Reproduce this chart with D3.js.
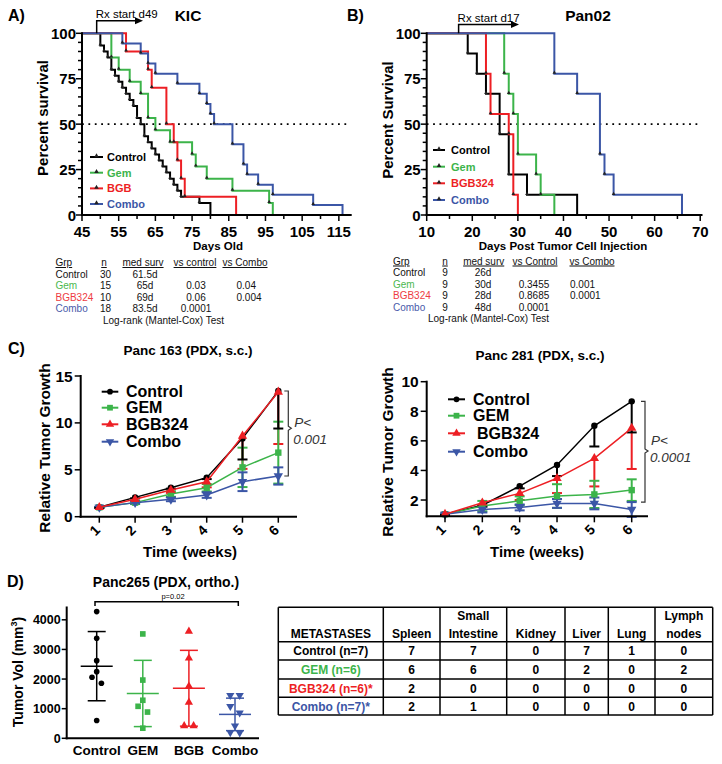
<!DOCTYPE html>
<html lang="en">
<head>
<meta charset="UTF-8">
<title>KIC / Pan02 survival, PDX growth and metastases</title>
<script src="https://d3js.org/d3.v7.min.js"></script>
<style>
  * { margin: 0; padding: 0; box-sizing: border-box; }
  body { background: #fff; }
  svg { display: block; font-family: Arial, "Liberation Sans", Helvetica, sans-serif; }
</style>
</head>
<body>
<svg id="fig" width="722" height="764"></svg>
<script>
// ---------- data ----------
// A) KIC survival: day of death for every mouse
const kicGroups = ["Control", "Gem", "BGB", "Combo"];
const kicControl = [50,50,51,52,53,53,54,55,56,57,58,59,60,60,61,62,62,63,64,65,66,67,68,69,70,71,72,77,80,80];
const kicGem = [53,53,55,58,61,63,63,65,69,75,76,79,86,96,97];
const kicBgb = [57,63,64,68,68,70,71,72,73,87];
const kicCombo = [56,61,63,65,71,77,79,80,81,86,86,89,89,90,93,97,108,116];

// B) Pan02 survival
const panGroups = ["Control", "Gem", "BGB324", "Combo"];
const panControl = [19,21,23,26,26,28,28,32,43];
const panGem = [27,27,28,29,30,30,34,35,38];
const panBgb = [23,23,24,24,28,29,29,29,30];
const panCombo = [38,38,43,48,48,48,49,51,66];

// stats tables under A and B
const statGrp = ["Control", "Gem", "BGB324", "Combo"];
const kicHeaders = ["Grp", "n", "med surv", "vs control", "vs Combo"];
const kicN = [30, 15, 10, 18];
const kicMedian = ["61.5d", "65d", "69d", "83.5d"];
const kicVsControl = ["", "0.03", "0.06", "0.0001"];
const kicVsCombo = ["", "0.04", "0.004", ""];
const panHeaders = ["Grp", "n", "med surv", "vs Control", "vs Combo"];
const panN = [9, 9, 9, 9];
const panMedian = ["26d", "30d", "28d", "48d"];
const panVsControl = ["", "0.3455", "0.8685", "0.0001"];
const panVsCombo = ["", "0.001", "0.0001", ""];

// C) relative tumour growth
const weeks = [1, 2, 3, 4, 5, 6];
const growthGroups = ["Control", "GEM", "BGB324", "Combo"];
const p163Control = [1.0, 2.06, 3.09, 4.16, 8.35, 13.4];
const p163ControlErr = [0.05, 0.1, 0.1, 0.15, 2.25, 4.0];
const p163Gem = [1.0, 1.5, 2.42, 3.09, 5.26, 6.83];
const p163GemErr = [0.05, 0.15, 0.3, 0.4, 2.1, 3.3];
const p163Bgb = [1.0, 1.85, 2.84, 3.73, 8.6, 13.3];
const p163BgbErr = [0.05, 0.15, 0.3, 0.6, 3.5, 5.55];
const p163Combo = [1.0, 1.5, 1.85, 2.31, 3.73, 4.34];
const p163ComboErr = [0.05, 0.1, 0.2, 0.3, 1.0, 0.92];

const p281Control = [1.04, 1.65, 2.94, 4.37, 7.02, 8.67];
const p281ControlErr = [0.05, 0.1, 0.15, 0.75, 1.4, 2.1];
const p281Gem = [1.04, 1.59, 1.95, 2.27, 2.38, 2.67];
const p281GemErr = [0.05, 0.35, 0.3, 0.8, 0.92, 0.73];
const p281Bgb = [1.04, 1.81, 2.45, 3.47, 4.82, 6.86];
const p281BgbErr = [0.05, 0.15, 0.45, 1.0, 1.9, 2.76];
const p281Combo = [1.04, 1.36, 1.5, 1.77, 1.77, 1.36];
const p281ComboErr = [0.05, 0.2, 0.2, 0.3, 0.4, 0.5];

// D) Panc265 tumour volume (mm3)
const volGroups = ["Control", "GEM", "BGB", "Combo"];
const volControl = [4277, 3378, 2622, 2250, 2061, 1858, 600];
const volGem = [3523, 1966, 1284, 1080, 886, 341];
const volBgb = [3614, 2705, 1761, 1216, 420, 420];
const volCombo = [1450, 1450, 1080, 860, 420, 200, 190];

// D) metastases table
const metCols = ["Spleen", "Small|Intestine", "Kidney", "Liver", "Lung", "Lymph|nodes"];
const metRows = ["Control (n=7)", "GEM (n=6)", "BGB324 (n=6)*", "Combo (n=7)*"];
const metCounts = [
  [7, 7, 0, 7, 1, 0],
  [6, 6, 0, 2, 0, 2],
  [2, 0, 0, 0, 0, 0],
  [2, 1, 0, 0, 0, 0]
];

// ---------- drawing ----------
const svg = d3.select("#fig");
const black = "#000", green = "#3cb44a", red = "#ed1f24", blue = "#3b56a6";
const groupColors = [black, green, red, blue];
const tableColors = ["#111", "#4cb84f", "#ee3b43", "#4a5aaa"];

const txt = (g, x, y, s, o = {}) => g.append("text")
  .attr("x", x).attr("y", y)
  .attr("font-size", o.size || 12)
  .attr("font-weight", o.weight || "normal")
  .attr("font-style", o.style || null)
  .attr("text-anchor", o.anchor || "start")
  .attr("fill", o.fill || "#000")
  .text(s);

const vtxt = (g, x, y, s, size) => g.append("text")
  .attr("transform", `translate(${x},${y}) rotate(-90)`)
  .attr("font-size", size).attr("font-weight", "bold")
  .attr("text-anchor", "middle").text(s);

// panel letters
txt(svg, 8, 21, "A)", { size: 16, weight: "bold" });
txt(svg, 347, 21, "B)", { size: 16, weight: "bold" });
txt(svg, 8, 354, "C)", { size: 16, weight: "bold" });
txt(svg, 7, 587, "D)", { size: 16, weight: "bold" });

function kmPoints(deaths, start) {
  const n = deaths.length;
  const times = Array.from(new Set(deaths)).sort((a, b) => a - b);
  let alive = n;
  const pts = [[start, 100]];
  times.forEach(t => {
    alive -= deaths.filter(d => d === t).length;
    pts.push([t, alive / n * 100]);
  });
  return pts;
}

function kmPanel(o) {
  const g = svg.append("g");
  const { x, y } = o;
  const [x0, x1] = x.range();
  const yb = y(0), yt = y(100);

  // dotted median line
  g.append("line").attr("x1", x0).attr("x2", x1 - 2).attr("y1", y(50)).attr("y2", y(50))
    .attr("stroke", "#000").attr("stroke-width", 1.6).attr("stroke-dasharray", "1.8,4.6");

  const line = d3.line().x(d => x(d[0])).y(d => y(d[1])).curve(d3.curveStepAfter);
  o.series.forEach((deaths, i) => {
    const pts = kmPoints(deaths, x.domain()[0]);
    g.append("path").attr("d", line(pts)).attr("fill", "none")
      .attr("stroke", groupColors[i]).attr("stroke-width", 2);
    g.selectAll(null).data(pts.slice(1, -1)).join("path")
      .attr("transform", d => `translate(${x(d[0])},${y(d[1]) - 1})`)
      .attr("d", d3.symbol(d3.symbolTriangle, 6)()).attr("fill", "#222");
  });

  // axes
  g.append("line").attr("x1", x0).attr("x2", x0).attr("y1", yt - 1).attr("y2", yb + 1)
    .attr("stroke", "#000").attr("stroke-width", 2);
  g.append("line").attr("x1", x0 - 1).attr("x2", x1).attr("y1", yb).attr("y2", yb)
    .attr("stroke", "#000").attr("stroke-width", 2);
  d3.range(0, 101, 5).forEach(v => {
    const major = v % 25 === 0;
    g.append("line").attr("x1", x0).attr("x2", x0 - (major ? 6 : 4)).attr("y1", y(v)).attr("y2", y(v))
      .attr("stroke", "#000").attr("stroke-width", 1.5);
    if (major) txt(g, x0 - 6, y(v) + 5.5, v, { size: 15, weight: "bold", anchor: "end" });
  });
  d3.range(o.xStart, o.xEnd + 0.1, 5).forEach(v => {
    const major = (v - o.xStart) % 10 === 0;
    g.append("line").attr("x1", x(v)).attr("x2", x(v)).attr("y1", yb).attr("y2", yb + (major ? 6 : 4))
      .attr("stroke", "#000").attr("stroke-width", 1.5);
    if (major) txt(g, x(v), 237, v, { size: 15, weight: "bold", anchor: "middle" });
  });
  txt(g, o.xLabelX, 250, o.xLabel, { size: 11.5, weight: "bold", anchor: "middle" });
  vtxt(g, o.yLabelX, o.yLabelY, o.yLabel, 15);
  txt(g, o.titleX, 21, o.title, { size: 15.5, weight: "bold", anchor: "middle" });

  // Rx arrow
  const ax = x(o.rxDay);
  g.append("path").attr("d", `M${ax},${yt}V${o.arrowY}H${o.arrowEnd - 6}`)
    .attr("fill", "none").attr("stroke", "#000").attr("stroke-width", 1.5);
  g.append("path").attr("d", `M${o.arrowEnd},${o.arrowY}l-8,-3.5v7z`).attr("fill", "#000");
  txt(g, ax - 1, o.arrowY - 3, o.rxText, { size: 11.5 });

  // legend
  o.groups.forEach((name, i) => {
    const ly = o.legend.ys[i];
    g.append("line").attr("x1", o.legend.x1).attr("x2", o.legend.x2).attr("y1", ly).attr("y2", ly)
      .attr("stroke", groupColors[i]).attr("stroke-width", 2);
    g.append("path").attr("transform", `translate(${(o.legend.x1 + o.legend.x2) / 2},${ly - 1})`)
      .attr("d", d3.symbol(d3.symbolTriangle, 9)()).attr("fill", "#222");
    txt(g, o.legend.tx, ly + 4, name, { size: 11, weight: "bold", fill: groupColors[i] });
  });
}

kmPanel({
  x: d3.scaleLinear([45, 118.5], [82, 351.7]),
  y: d3.scaleLinear([0, 100], [215, 33.3]),
  xStart: 45, xEnd: 115,
  series: [kicControl, kicGem, kicBgb, kicCombo],
  groups: kicGroups,
  title: "KIC", titleX: 188,
  xLabel: "Days Old", xLabelX: 218,
  yLabel: "Percent survival", yLabelX: 48, yLabelY: 118,
  rxDay: 49, rxText: "Rx start d49", arrowY: 20.7, arrowEnd: 143,
  legend: { x1: 90, x2: 103, tx: 107, ys: [157, 172.7, 188.4, 204] }
});

kmPanel({
  x: d3.scaleLinear([10, 70.5], [426.7, 702.5]),
  y: d3.scaleLinear([0, 100], [215, 33.3]),
  xStart: 10, xEnd: 70,
  series: [panControl, panGem, panBgb, panCombo],
  groups: panGroups,
  title: "Pan02", titleX: 588,
  xLabel: "Days Post Tumor Cell Injection", xLabelX: 563,
  yLabel: "Percent Survival", yLabelX: 393, yLabelY: 120,
  rxDay: 17, rxText: "Rx start d17", arrowY: 24.5, arrowEnd: 519,
  legend: { x1: 433, x2: 445, tx: 451, ys: [150, 166.7, 183.3, 200] }
});

// stats tables
function statTable(o) {
  const g = svg.append("g").attr("font-size", 10);
  const cols = o.cols;
  o.headers.forEach((h, j) => {
    g.append("text").attr("x", cols[j].h).attr("y", o.y0)
      .attr("text-anchor", cols[j].ha).attr("text-decoration", "underline")
      .attr("font-size", 10).attr("fill", "#111").text(h);
  });
  statGrp.forEach((grp, i) => {
    const yy = o.y0 + (i + 1) * o.dy;
    const vals = [grp, o.n[i], o.med[i], o.vsC[i], o.vsCombo[i]];
    vals.forEach((v, j) => {
      g.append("text").attr("x", cols[j].x).attr("y", yy).attr("text-anchor", cols[j].a)
        .attr("fill", j === 0 ? tableColors[i] : "#111").text(v);
    });
  });
  g.append("text").attr("x", o.noteX).attr("y", o.y0 + 5 * o.dy).attr("fill", "#111")
    .text("Log-rank (Mantel-Cox) Test");
}

statTable({
  headers: kicHeaders, n: kicN, med: kicMedian, vsC: kicVsControl, vsCombo: kicVsCombo,
  y0: 266, dy: 11.5, noteX: 103,
  cols: [
    { h: 55.5, ha: "start", x: 55.5, a: "start" },
    { h: 104, ha: "middle", x: 105.5, a: "middle" },
    { h: 143, ha: "middle", x: 145, a: "middle" },
    { h: 195, ha: "middle", x: 196, a: "middle" },
    { h: 245, ha: "middle", x: 236.5, a: "start" }
  ]
});
statTable({
  headers: panHeaders, n: panN, med: panMedian, vsC: panVsControl, vsCombo: panVsCombo,
  y0: 264.5, dy: 11.5, noteX: 428,
  cols: [
    { h: 393, ha: "start", x: 393, a: "start" },
    { h: 445, ha: "middle", x: 445, a: "middle" },
    { h: 483.7, ha: "middle", x: 483, a: "middle" },
    { h: 535, ha: "middle", x: 534, a: "middle" },
    { h: 592, ha: "middle", x: 570, a: "start" }
  ]
});

// ---------- C) growth curves ----------
function marker(g, kind, cx, cy, color, s = 1) {
  if (kind === 0) g.append("circle").attr("cx", cx).attr("cy", cy).attr("r", 3.2 * s).attr("fill", color);
  else if (kind === 1) g.append("rect").attr("x", cx - 3.2 * s).attr("y", cy - 3.2 * s)
    .attr("width", 6.4 * s).attr("height", 6.4 * s).attr("fill", color);
  else g.append("path").attr("transform", `translate(${cx},${cy}) rotate(${kind === 3 ? 180 : 0})`)
    .attr("d", d3.symbol(d3.symbolTriangle, 38 * s * s)()).attr("fill", color);
}

function growthPanel(o) {
  const g = svg.append("g");
  const { x, y } = o;
  const yb = y.range()[0], yt = y.range()[1];
  const oneSided = [true, false, true, false];

  // error bars
  [2, 1, 3, 0].forEach(i => {
    const vals = o.series[i], errs = o.errs[i];
    weeks.forEach((w, k) => {
      const cx = x(w);
      const lo = vals[k] - errs[k], hi = oneSided[i] ? vals[k] : vals[k] + errs[k];
      g.append("line").attr("x1", cx).attr("x2", cx).attr("y1", y(lo)).attr("y2", y(hi))
        .attr("stroke", groupColors[i]).attr("stroke-width", 2);
      g.append("line").attr("x1", cx - 5).attr("x2", cx + 5).attr("y1", y(lo)).attr("y2", y(lo))
        .attr("stroke", groupColors[i]).attr("stroke-width", 2);
      if (!oneSided[i]) g.append("line").attr("x1", cx - 5).attr("x2", cx + 5).attr("y1", y(hi)).attr("y2", y(hi))
        .attr("stroke", groupColors[i]).attr("stroke-width", 2);
    });
  });
  // lines + markers
  const line = d3.line().x((d, k) => x(weeks[k])).y(d => y(d));
  [0, 1, 3, 2].forEach(i => {
    g.append("path").attr("d", line(o.series[i])).attr("fill", "none")
      .attr("stroke", groupColors[i]).attr("stroke-width", 1.5);
    o.series[i].forEach((v, k) => marker(g, i, x(weeks[k]), y(v), groupColors[i]));
  });

  // axes
  g.append("line").attr("x1", o.axisX).attr("x2", o.axisX).attr("y1", yt - 1).attr("y2", yb + 1)
    .attr("stroke", "#000").attr("stroke-width", 2);
  g.append("line").attr("x1", o.axisX - 1).attr("x2", o.axisEnd).attr("y1", yb).attr("y2", yb)
    .attr("stroke", "#000").attr("stroke-width", 2);
  o.yTicks.forEach(v => {
    g.append("line").attr("x1", o.axisX).attr("x2", o.axisX - 6).attr("y1", y(v)).attr("y2", y(v))
      .attr("stroke", "#000").attr("stroke-width", 1.5);
    txt(g, o.axisX - 8, y(v) + 5.5, v, { size: 15.5, weight: "bold", anchor: "end" });
  });
  weeks.forEach(w => {
    g.append("line").attr("x1", x(w)).attr("x2", x(w)).attr("y1", yb).attr("y2", yb + 6)
      .attr("stroke", "#000").attr("stroke-width", 1.5);
    g.append("text").attr("transform", `translate(${x(w) - 1},${yb + 17}) rotate(-45)`)
      .attr("font-size", 14).attr("font-weight", "bold").attr("text-anchor", "middle").text(w);
  });
  txt(g, o.xLabelX, 557, "Time (weeks)", { size: 15, weight: "bold", anchor: "middle" });
  vtxt(g, o.yLabelX, o.yLabelY, "Relative Tumor Growth", 15.5);
  txt(g, o.titleX, o.titleY, o.title, { size: 13.5, weight: "bold", anchor: "middle" });

  // legend
  growthGroups.forEach((name, i) => {
    const ly = o.legend.ys[i];
    g.append("line").attr("x1", o.legend.x1).attr("x2", o.legend.x2).attr("y1", ly).attr("y2", ly)
      .attr("stroke", groupColors[i]).attr("stroke-width", 2);
    marker(g, i, (o.legend.x1 + o.legend.x2) / 2, ly, groupColors[i], 0.9);
    txt(g, o.legend.tx + (i === 2 ? o.legend.shift : 0), ly + 5.5, name, { size: 16, weight: "bold" });
  });

  // significance bracket
  const top = y(o.series[0][5]), bot = y(o.series[3][5] + (o.bracketToErr ? o.errs[3][5] : 0));
  const mid = o.bracketMid;
  g.append("path")
    .attr("d", `M${o.bx - 4},${top}H${o.bx}V${mid - 2}l3,2l-3,2V${bot}H${o.bx - 4}`)
    .attr("fill", "none").attr("stroke", "#333").attr("stroke-width", 1.2);
  txt(g, o.bx + 6, o.pY, "P<", { size: 13.5, style: "italic", fill: "#333" });
  txt(g, o.bx + 5, o.pY + 17, o.pText, { size: 13.5, style: "italic", fill: "#333" });
}

growthPanel({
  x: d3.scaleLinear([1, 6], [99.3, 278.3]),
  y: d3.scaleLinear([0, 15], [516.7, 376]),
  axisX: 80.7, axisEnd: 297,
  yTicks: [0, 5, 10, 15],
  series: [p163Control, p163Gem, p163Bgb, p163Combo],
  errs: [p163ControlErr, p163GemErr, p163BgbErr, p163ComboErr],
  title: "Panc 163  (PDX, s.c.)", titleX: 188, titleY: 355,
  xLabelX: 190, yLabelX: 50, yLabelY: 448,
  legend: { x1: 101.7, x2: 118.3, tx: 126, ys: [391.7, 407.7, 424.3, 441.7], shift: 0 },
  bx: 288.3, bracketMid: 428.3, bracketToErr: false, pY: 427, pText: "0.001"
});

growthPanel({
  x: d3.scaleLinear([1, 6], [445, 631.7]),
  y: d3.scaleLinear([0.9, 10], [516.3, 381.7]),
  axisX: 426.7, axisEnd: 648,
  yTicks: [2, 4, 6, 8, 10],
  series: [p281Control, p281Gem, p281Bgb, p281Combo],
  errs: [p281ControlErr, p281GemErr, p281BgbErr, p281ComboErr],
  title: "Panc 281  (PDX, s.c.)", titleX: 540, titleY: 360,
  xLabelX: 537, yLabelX: 393, yLabelY: 452,
  legend: { x1: 448, x2: 465, tx: 473, ys: [399.3, 415.7, 433.3, 451.7], shift: 4 },
  bx: 645, bracketMid: 451, bracketToErr: true, pY: 445, pText: "0.0001"
});

// ---------- D) scatter with mean +/- SD ----------
(function () {
  const g = svg.append("g");
  const y = d3.scaleLinear([0, 4500], [738.3, 605]);
  const x = d3.scalePoint(volGroups, [96.7, 235]);
  const axisX = 66.7, yb = y(0);
  const sets = [volControl, volGem, volBgb, volCombo];

  sets.forEach((vals, i) => {
    const cx = x(volGroups[i]);
    const m = d3.mean(vals), sd = d3.deviation(vals);
    const col = groupColors[i];
    g.append("line").attr("x1", cx).attr("x2", cx).attr("y1", y(m - sd)).attr("y2", y(m + sd))
      .attr("stroke", col).attr("stroke-width", 1.5);
    [m - sd, m + sd].forEach(v => g.append("line").attr("x1", cx - 9).attr("x2", cx + 9)
      .attr("y1", y(v)).attr("y2", y(v)).attr("stroke", col).attr("stroke-width", 1.5));
    g.append("line").attr("x1", cx - 16).attr("x2", cx + 16).attr("y1", y(m)).attr("y2", y(m))
      .attr("stroke", col).attr("stroke-width", 1.5);

    // spread points that would overlap
    const sorted = vals.slice().sort((a, b) => b - a);
    const clusters = [];
    sorted.forEach((v, k) => {
      if (k && y(v) - y(sorted[k - 1]) < 7) clusters[clusters.length - 1].push(v);
      else clusters.push([v]);
    });
    clusters.forEach(cl => {
      cl.forEach((v, k) => {
        let off;
        if (cl.length % 2 === 0) off = (k % 2 ? 1 : -1) * 4.7 * (Math.floor(k / 2) + 1);
        else off = k === 0 ? 0 : (k % 2 ? -1 : 1) * 4.7 * Math.ceil(k / 2);
        marker(g, i, cx + off, y(v), col, 0.88);
      });
    });
  });

  g.append("line").attr("x1", axisX).attr("x2", axisX).attr("y1", y(4450)).attr("y2", yb + 1)
    .attr("stroke", "#000").attr("stroke-width", 2);
  g.append("line").attr("x1", axisX - 1).attr("x2", 259).attr("y1", yb).attr("y2", yb)
    .attr("stroke", "#000").attr("stroke-width", 2);
  [0, 1000, 2000, 3000, 4000].forEach(v => {
    g.append("line").attr("x1", axisX).attr("x2", axisX - 5).attr("y1", y(v)).attr("y2", y(v))
      .attr("stroke", "#000").attr("stroke-width", 1.5);
    txt(g, axisX - 6, y(v) + 4.5, v, { size: 12.5, weight: "bold", anchor: "end" });
  });
  volGroups.forEach(name => txt(g, x(name), 755, name, { size: 13.5, weight: "bold", anchor: "middle" }));

  const yl = g.append("text").attr("transform", "translate(23,672) rotate(-90)")
    .attr("font-size", 14).attr("font-weight", "bold").attr("text-anchor", "middle");
  yl.append("tspan").text("Tumor  Vol (mm");
  yl.append("tspan").attr("font-size", 9).attr("dy", -6).text("3");
  yl.append("tspan").attr("dy", 6).text(")");

  txt(g, 166, 587, "Panc265 (PDX, ortho.)", { size: 14, weight: "bold", anchor: "middle" });
  g.append("path").attr("d", "M95,606V601.7H238.3V606").attr("fill", "none")
    .attr("stroke", "#000").attr("stroke-width", 1.5);
  txt(g, 173, 599, "p=0.02", { size: 7.5, anchor: "middle" });
})();

// ---------- D) metastases table ----------
(function () {
  const g = svg.append("g");
  const xs = [278.3, 383.3, 440, 506.7, 565, 608.3, 655, 712.7];
  const ys = [607.3, 641.7, 660, 679, 697.3, 715];
  const cx = j => (xs[j] + xs[j + 1]) / 2;

  xs.forEach(v => g.append("line").attr("x1", v).attr("x2", v).attr("y1", ys[0]).attr("y2", ys[5])
    .attr("stroke", "#000").attr("stroke-width", 1.5));
  ys.forEach(v => g.append("line").attr("x1", xs[0]).attr("x2", xs[7]).attr("y1", v).attr("y2", v)
    .attr("stroke", "#000").attr("stroke-width", 1.5));

  txt(g, cx(0), 637.5, "METASTASES", { size: 12, weight: "bold", anchor: "middle" });
  metCols.forEach((c, j) => {
    const parts = c.split("|");
    if (parts.length === 2) {
      txt(g, cx(j + 1), 619.5, parts[0], { size: 12, weight: "bold", anchor: "middle" });
      txt(g, cx(j + 1), 637.5, parts[1], { size: 12, weight: "bold", anchor: "middle" });
    } else txt(g, cx(j + 1), 637.5, parts[0], { size: 12, weight: "bold", anchor: "middle" });
  });
  metRows.forEach((r, i) => {
    const yy = (ys[i + 1] + ys[i + 2]) / 2 + 4.5;
    txt(g, cx(0), yy, r, { size: 12, weight: "bold", anchor: "middle", fill: groupColors[i] });
    metCounts[i].forEach((v, j) => txt(g, cx(j + 1), yy, v, { size: 12, weight: "bold", anchor: "middle" }));
  });
})();
</script>
</body>
</html>
